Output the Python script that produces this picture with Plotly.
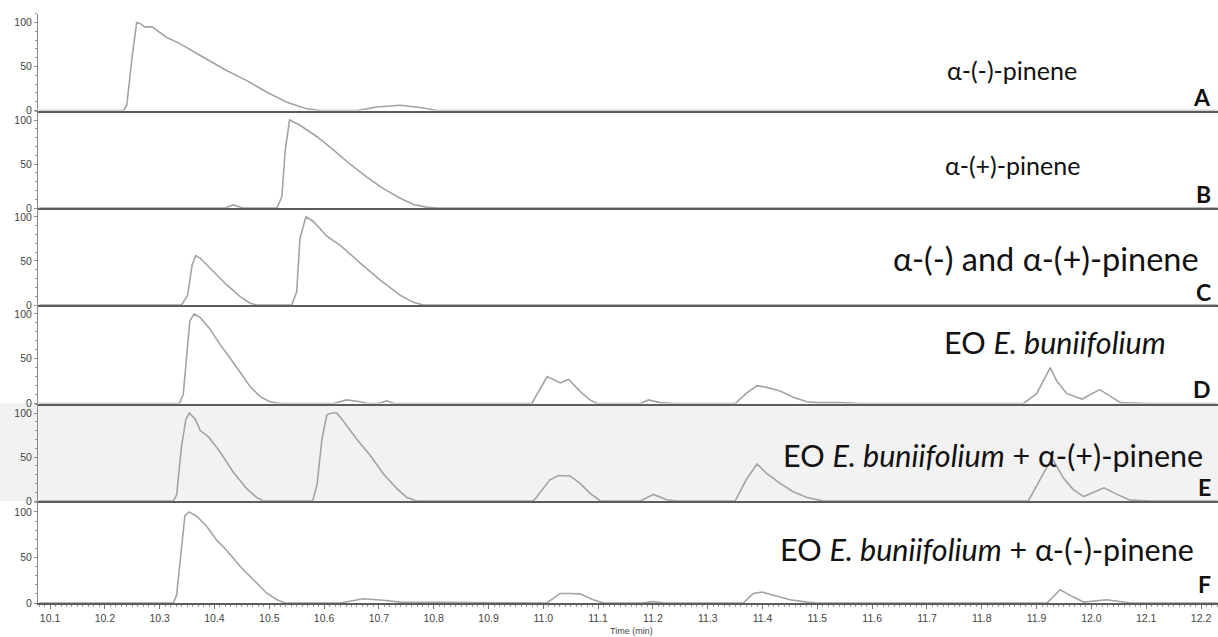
import plotly.graph_objects as go
from plotly.subplots import make_subplots

# ---------------- data ----------------
A_t = [10.08, 10.234, 10.240, 10.249, 10.258, 10.264, 10.273, 10.286, 10.313, 10.337, 10.374, 10.422,
       10.459, 10.495, 10.532, 10.568, 10.593, 10.660, 10.696, 10.739, 10.775, 10.806, 12.23]
A_y = [0, 0, 6, 57, 100, 99, 95, 95, 83, 76, 62.5, 45.5, 34, 21, 9.5, 2, 0, 0, 4, 6, 3.5, 0, 0]

B_t = [10.08, 10.419, 10.434, 10.452, 10.514, 10.523, 10.529, 10.537, 10.556, 10.587, 10.617, 10.647,
       10.678, 10.708, 10.739, 10.763, 10.787, 10.806, 12.23]
B_y = [0, 0, 3.5, 0, 0, 13, 65, 100, 94, 81, 66, 50, 35, 22, 11, 4, 1, 0, 0]

C_t = [10.08, 10.340, 10.351, 10.359, 10.366, 10.374, 10.398, 10.422, 10.447, 10.465, 10.477, 10.541,
       10.550, 10.556, 10.567, 10.580, 10.605, 10.629, 10.666, 10.702, 10.739, 10.763, 10.781, 12.23]
C_y = [0, 0, 11, 45, 56, 53, 38, 23, 9.5, 2, 0, 0, 15, 76, 100, 95, 78, 68, 47.5, 28.5, 11, 3, 0, 0]

D_t = [10.08, 10.336, 10.343, 10.349, 10.355, 10.363, 10.374, 10.392, 10.410, 10.428, 10.447, 10.465,
       10.483, 10.501, 10.520, 10.617, 10.641, 10.666, 10.678, 10.700, 10.714, 10.728, 10.979, 10.995,
       11.007, 11.031, 11.046, 11.067, 11.085, 11.098, 11.177, 11.192, 11.213, 11.237, 11.350, 11.371,
       11.390, 11.408, 11.432, 11.456, 11.481, 11.499, 11.540, 11.578, 11.876, 11.900, 11.914, 11.925,
       11.936, 11.955, 11.983, 12.015, 12.035, 12.053, 12.101, 12.23]
D_y = [0, 0, 10, 55, 92, 100, 96, 83, 66, 51, 34, 19, 8, 2, 0, 0, 4, 2, 0, 0, 3, 0, 0, 18,
       30, 23, 27, 13.5, 4, 0, 0, 4, 1, 0, 0, 11.5, 20, 18, 14, 7, 2, 1, 1, 0, 0, 11, 28, 40,
       26, 11, 5, 15.5, 8, 1, 0, 0]

E_t = [10.08, 10.325, 10.331, 10.340, 10.348, 10.354, 10.365, 10.374, 10.389, 10.410, 10.434, 10.459,
       10.477, 10.489, 10.579, 10.587, 10.596, 10.605, 10.614, 10.623, 10.635, 10.660, 10.684, 10.708,
       10.733, 10.751, 10.769, 10.982, 11.012, 11.028, 11.049, 11.067, 11.085, 11.104, 11.177, 11.201,
       11.225, 11.244, 11.350, 11.371, 11.390, 11.408, 11.432, 11.456, 11.481, 11.511, 11.885, 11.906,
       11.928, 11.949, 11.967, 11.986, 12.023, 12.047, 12.071, 12.107, 12.23]
E_y = [0, 0, 7, 63, 93, 100, 93, 80, 73, 56, 33, 14, 4, 0, 0, 18, 70, 98, 100, 100, 91, 70, 52, 31,
       14, 4, 0, 0, 24, 29, 28.5, 20, 9, 0, 0, 7.5, 1.5, 0, 0, 25, 42, 31, 20, 10.5, 4, 0, 0, 24,
       49, 26, 13, 5, 15, 7.5, 1, 0, 0]

F_t = [10.08, 10.325, 10.331, 10.340, 10.346, 10.354, 10.368, 10.386, 10.404, 10.422, 10.447, 10.471,
       10.495, 10.514, 10.529, 10.629, 10.672, 10.708, 10.739, 11.006, 11.031, 11.049, 11.067, 11.091,
       11.110, 11.180, 11.200, 11.220, 11.365, 11.383, 11.399, 11.420, 11.450, 11.481, 11.499, 11.919,
       11.943, 11.967, 11.986, 12.028, 12.071, 12.23]
F_y = [0, 0, 9, 62, 96, 100, 95, 84, 69, 58, 40, 25.5, 11, 3.6, 0, 0, 4.7, 3, 1, 0, 10.5, 10.5, 10,
       3.5, 0, 0, 1.5, 0, 0, 10.5, 12, 8.5, 3.5, 1, 0, 0, 14.5, 6.5, 1, 3.5, 0, 0]

panel_letters = ["A", "B", "C", "D", "E", "F"]
panel_titles = [
    "α-(-)-pinene",
    "α-(+)-pinene",
    "α-(-) and α-(+)-pinene",
    "EO <i>E. buniifolium</i>",
    "EO <i>E. buniifolium</i> + α-(+)-pinene",
    "EO <i>E. buniifolium</i> + α-(-)-pinene",
]
y_ticks = [0, 50, 100]
x_ticks = [10.1, 10.2, 10.3, 10.4, 10.5, 10.6, 10.7, 10.8, 10.9, 11.0, 11.1, 11.2,
           11.3, 11.4, 11.5, 11.6, 11.7, 11.8, 11.9, 12.0, 12.1, 12.2]
x_title = "Time (min)"

series = [(A_t, A_y), (B_t, B_y), (C_t, C_y), (D_t, D_y), (E_t, E_y), (F_t, F_y)]

# ---------------- layout geometry (pixels) ----------------
W, H = 1218, 637
ML, MR, MT, MB = 38, 0, 0, 34
PH = H - MT - MB
PW = W - ML - MR
bottoms = [110.5, 208, 305, 403.5, 501, 603]
tops = [13.7, 110.5, 208, 305, 403.5, 501]
yranges = [[0, 110], [0, 110.8], [0, 110], [0, 110], [0, 110.8], [0, 112]]
title_pos = [(1012, 70), (1012, 165), (1046, 258), (1055, 342), (993, 455), (987, 549)]
title_size = [25, 25, 32.5, 30.5, 30.5, 30.5]
letter_y = [97, 194, 292, 389, 487, 584]


def px(xp):
    return (xp - ML) / PW


def py(yp):
    return (H - MB - yp) / PH


fig = make_subplots(rows=6, cols=1, shared_xaxes=True, vertical_spacing=0)

LINE = "#a3a3a3"
TICKFONT = dict(family="Liberation Sans, Arial", size=10.5, color="#444")
for i, (t, y) in enumerate(series):
    fig.add_trace(go.Scatter(x=t, y=y, mode="lines", line=dict(color=LINE, width=1.6),
                             hoverinfo="skip", showlegend=False), row=i + 1, col=1)

for i in range(6):
    r = i + 1
    fig.update_yaxes(row=r, col=1, domain=[py(bottoms[i]), py(tops[i])], range=yranges[i],
                     tickvals=y_ticks, ticks="outside", ticklen=3, tickcolor="#888",
                     showline=True, linecolor="#8a8a8a", linewidth=1, showgrid=False,
                     zeroline=False, tickfont=TICKFONT,
                     minor=dict(dtick=10, ticks="outside", ticklen=2, tickcolor="#999"))
    is_bottom = (r == 6)
    fig.update_xaxes(row=r, col=1, range=[10.078, 12.231], showline=True, linecolor="#5c5c5c",
                     linewidth=2, showgrid=False, zeroline=False,
                     tickvals=x_ticks if is_bottom else [],
                     ticktext=[f"{v:.1f}" for v in x_ticks] if is_bottom else [],
                     ticks="outside" if is_bottom else "", ticklen=4, tickcolor="#777",
                     showticklabels=is_bottom, tickfont=TICKFONT,
                     minor=dict(dtick=0.01, tick0=10.0, ticks="outside" if is_bottom else "",
                                ticklen=2, tickcolor="#999"))

# shaded panel E
fig.add_shape(type="rect", xref="paper", yref="paper", x0=px(0), x1=px(W),
              y0=py(bottoms[4]), y1=py(tops[4]), fillcolor="#f2f2f2", line=dict(width=0),
              layer="below")

for i in range(6):
    fig.add_annotation(text=panel_titles[i], xref="paper", yref="paper",
                       x=px(title_pos[i][0]), y=py(title_pos[i][1]), xanchor="center", yanchor="middle",
                       showarrow=False, font=dict(family="Lato", size=title_size[i], color="#111"))
    fig.add_annotation(text=f"<b>{panel_letters[i]}</b>", xref="paper", yref="paper",
                       x=px(1213), y=py(letter_y[i]), xanchor="right", yanchor="middle",
                       showarrow=False, font=dict(family="Lato", size=23, color="#111"))

fig.add_annotation(text=x_title, xref="paper", yref="paper", x=px(632), y=py(631),
                   xanchor="center", yanchor="middle", showarrow=False,
                   font=dict(family="Liberation Sans, Arial", size=9, color="#444"))

fig.update_layout(width=W, height=H, margin=dict(l=ML, r=MR, t=MT, b=MB),
                  paper_bgcolor="white", plot_bgcolor="rgba(0,0,0,0)", showlegend=False)

fig.write_html("out.html", config={"displayModeBar": False},
               post_script="document.body.style.margin='0px';document.body.style.padding='0px';")
